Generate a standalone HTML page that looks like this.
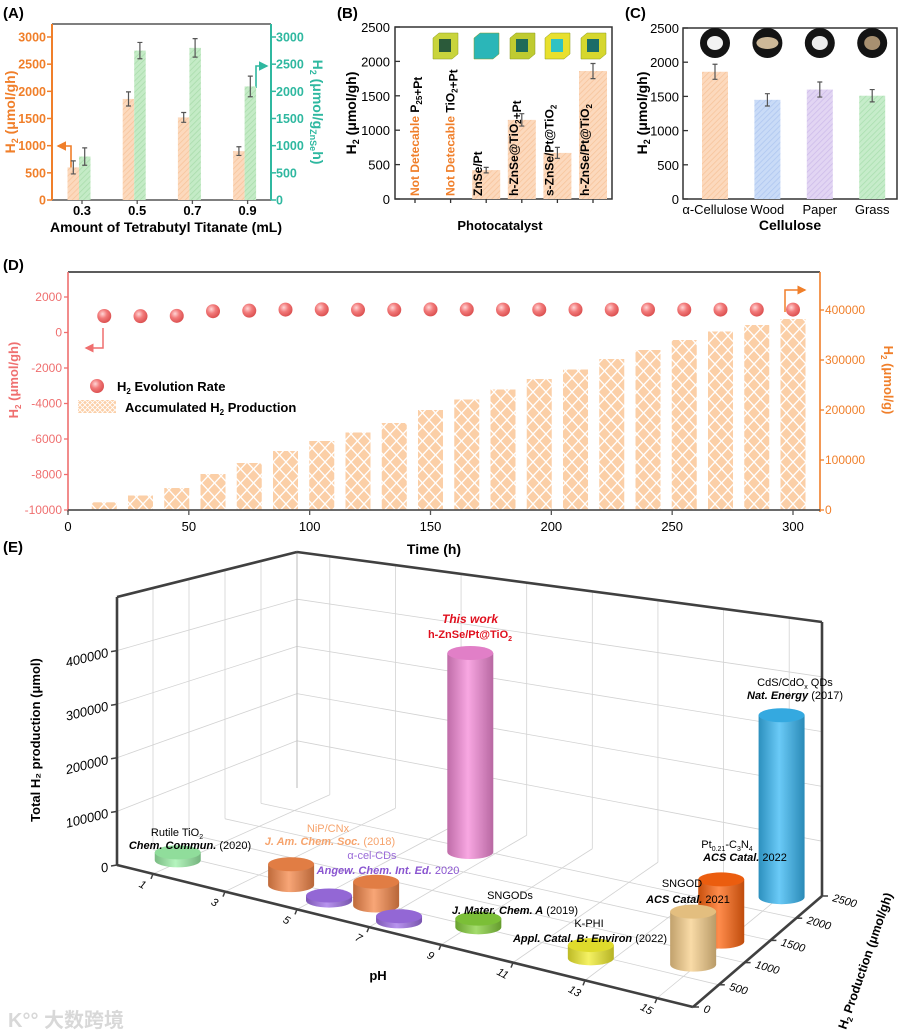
<!DOCTYPE html>
<html><head><meta charset="utf-8">
<style>
html,body{margin:0;padding:0;background:#fff;}
svg{display:block;font-family:"Liberation Sans","Noto Sans CJK SC",sans-serif;}
.b{font-weight:bold;}
</style></head>
<body>
<svg id="fig" xmlns="http://www.w3.org/2000/svg" width="900" height="1033" viewBox="0 0 900 1033">
<defs>
  <pattern id="hatchO" width="4" height="4" patternUnits="userSpaceOnUse" patternTransform="rotate(45)"><rect width="4" height="4" fill="#fcd9bd"/><line x1="0" y1="0" x2="0" y2="4" stroke="#f7c39a" stroke-width="1.5"/></pattern>
  <pattern id="hatchG" width="4" height="4" patternUnits="userSpaceOnUse" patternTransform="rotate(45)"><rect width="4" height="4" fill="#c4ebc6"/><line x1="0" y1="0" x2="0" y2="4" stroke="#a8dcaa" stroke-width="1.5"/></pattern>
  <pattern id="hatchB" width="4" height="4" patternUnits="userSpaceOnUse" patternTransform="rotate(45)"><rect width="4" height="4" fill="#c9dbf7"/><line x1="0" y1="0" x2="0" y2="4" stroke="#adc6f0" stroke-width="1.5"/></pattern>
  <pattern id="hatchP" width="4" height="4" patternUnits="userSpaceOnUse" patternTransform="rotate(45)"><rect width="4" height="4" fill="#e2d5f3"/><line x1="0" y1="0" x2="0" y2="4" stroke="#cdbbea" stroke-width="1.5"/></pattern>
  <pattern id="hatchC" width="4" height="4" patternUnits="userSpaceOnUse" patternTransform="rotate(45)"><rect width="4" height="4" fill="#c6ecca"/><line x1="0" y1="0" x2="0" y2="4" stroke="#a9dfae" stroke-width="1.5"/></pattern>
  <pattern id="cross" width="13" height="14" patternUnits="userSpaceOnUse"><rect width="13" height="14" fill="#fbcfa7"/><path d="M0 0L13 14M13 0L0 14" stroke="#fff" stroke-width="1.3"/></pattern>
  <pattern id="crossS" width="5" height="5" patternUnits="userSpaceOnUse"><rect width="5" height="5" fill="#fbcfa7"/><path d="M0 0L5 5M5 0L0 5" stroke="#fff" stroke-width="0.8"/></pattern>
  <radialGradient id="dotG" cx="0.38" cy="0.35" r="0.7"><stop offset="0" stop-color="#ffd6d6"/><stop offset="0.45" stop-color="#f27a7a"/><stop offset="1" stop-color="#d94c4c"/></radialGradient>
  <marker id="arrO" markerWidth="6" markerHeight="6" refX="5" refY="3" orient="auto"><path d="M0,0L6,3L0,6z" fill="#f07f2a"/></marker>
  <marker id="arrT" markerWidth="6" markerHeight="6" refX="5" refY="3" orient="auto"><path d="M0,0L6,3L0,6z" fill="#2fb8a0"/></marker>
  <marker id="arrP" markerWidth="6" markerHeight="6" refX="5" refY="3" orient="auto"><path d="M0,0L6,3L0,6z" fill="#ef6f6f"/></marker>
</defs>

<text x="3" y="18" font-size="15" class="b">(A)</text>
<text x="337" y="18" font-size="15" class="b">(B)</text>
<text x="625" y="18" font-size="15" class="b">(C)</text>
<text x="3" y="270" font-size="15" class="b">(D)</text>
<text x="3" y="552" font-size="15" class="b">(E)</text>

<g id="pa">
  <line x1="52" y1="24" x2="271" y2="24" stroke="#555" stroke-width="1.5"/>
  <line x1="52" y1="200" x2="271" y2="200" stroke="#555" stroke-width="1.5"/>
  <line x1="52" y1="24" x2="52" y2="200" stroke="#f07f2a" stroke-width="2"/>
  <line x1="271" y1="24" x2="271" y2="200" stroke="#2fb8a0" stroke-width="2"/>
  <text transform="translate(15,112) rotate(-90)" text-anchor="middle" font-size="14" class="b" fill="#f07f2a">H<tspan font-size="9" dy="3">2</tspan><tspan dy="-3"> (μmol/gh)</tspan></text>
  <text transform="translate(313,112) rotate(90)" text-anchor="middle" font-size="14" class="b" fill="#2fb8a0">H<tspan font-size="9" dy="3">2</tspan><tspan dy="-3"> (μmol/g</tspan><tspan font-size="9" dy="3">ZnSe</tspan><tspan dy="-3">h)</tspan></text>
  <text x="166" y="232" text-anchor="middle" font-size="14" class="b">Amount of Tetrabutyl Titanate (mL)</text>
  <path d="M71 170 L71 146 L58 146" fill="none" stroke="#f07f2a" stroke-width="1.6" marker-end="url(#arrO)"/>
  <path d="M256 88 L256 66 L267 66" fill="none" stroke="#2fb8a0" stroke-width="1.6" marker-end="url(#arrT)"/>
</g>

<g id="pb">
  <rect x="395" y="27" width="217" height="172" fill="none" stroke="#333" stroke-width="1.5"/>
  <text transform="translate(356,113) rotate(-90)" text-anchor="middle" font-size="14" class="b">H<tspan font-size="9" dy="3">2</tspan><tspan dy="-3"> (μmol/gh)</tspan></text>
  <text x="500" y="230" text-anchor="middle" font-size="13" class="b">Photocatalyst</text>
</g>

<g id="pc">
  <rect x="683" y="28" width="214" height="171" fill="none" stroke="#333" stroke-width="1.5"/>
  <text transform="translate(647,113) rotate(-90)" text-anchor="middle" font-size="14" class="b">H<tspan font-size="9" dy="3">2</tspan><tspan dy="-3"> (μmol/gh)</tspan></text>
  <text x="790" y="230" text-anchor="middle" font-size="14" class="b">Cellulose</text>
</g>

<g id="pd">
  <line x1="68" y1="272" x2="820" y2="272" stroke="#444" stroke-width="1.8"/>
  <text transform="translate(18,380) rotate(-90)" text-anchor="middle" font-size="13" class="b" fill="#ef6f6f">H<tspan font-size="8" dy="3">2</tspan><tspan dy="-3"> (μmol/gh)</tspan></text>
  <text transform="translate(884,380) rotate(90)" text-anchor="middle" font-size="13" class="b" fill="#f07f2a">H<tspan font-size="8" dy="3">2</tspan><tspan dy="-3"> (μmol/g)</tspan></text>
  <text x="434" y="554" text-anchor="middle" font-size="14" class="b">Time (h)</text>
  <path d="M103 328 L103 348 L86 348" fill="none" stroke="#ef6f6f" stroke-width="1.5" marker-end="url(#arrP)"/>
  <path d="M785 312 L785 290 L805 290" fill="none" stroke="#f07f2a" stroke-width="1.5" marker-end="url(#arrO)"/>
  <g>
    <circle cx="97" cy="386" r="7" fill="url(#dotG)"/>
    <text x="117" y="391" font-size="13" class="b">H<tspan font-size="8" dy="3">2</tspan><tspan dy="-3"> Evolution Rate</tspan></text>
    <rect x="78" y="400" width="38" height="13" fill="url(#crossS)"/>
    <text x="125" y="412" font-size="13" class="b">Accumulated H<tspan font-size="8" dy="3">2</tspan><tspan dy="-3"> Production</tspan></text>
  </g>
</g>

<g id="pe">
  <text transform="translate(40,740) rotate(-90)" text-anchor="middle" font-size="13" class="b">Total H₂ production (μmol)</text>
  <text x="378" y="980" text-anchor="middle" font-size="13" class="b">pH</text>
  <text transform="translate(846,1030) rotate(-71)" font-size="12.5" class="b">H<tspan font-size="8" dy="3">2</tspan><tspan dy="-3"> Production (μmol/gh)</tspan></text>
  <g id="eGrid"></g>
  <g id="eFrame"></g>
  <g id="eBars"></g>
  <g font-size="11">
    <text x="177" y="836" text-anchor="middle">Rutile TiO<tspan font-size="7" dy="3">2</tspan></text>
    <text x="190" y="849" text-anchor="middle"><tspan font-weight="bold" font-style="italic">Chem. Commun.</tspan> (2020)</text>
    <text x="328" y="832" text-anchor="middle" fill="#f6a36c">NiP/CNx</text>
    <text x="330" y="845" text-anchor="middle" fill="#f6a36c"><tspan font-weight="bold" font-style="italic">J. Am. Chem. Soc.</tspan> (2018)</text>
    <text x="372" y="859" text-anchor="middle" fill="#9a6ad8">α-cel-CDs</text>
    <text x="388" y="874" text-anchor="middle" fill="#8a55d0"><tspan font-weight="bold" font-style="italic">Angew. Chem. Int. Ed.</tspan> 2020</text>
    <text x="470" y="623" text-anchor="middle" font-size="12" fill="#e0101e" font-weight="bold" font-style="italic">This work</text>
    <text x="470" y="638" text-anchor="middle" font-size="11" fill="#e0101e" font-weight="bold">h-ZnSe/Pt@TiO<tspan font-size="7" dy="3">2</tspan></text>
    <text x="510" y="899" text-anchor="middle">SNGODs</text>
    <text x="515" y="914" text-anchor="middle"><tspan font-weight="bold" font-style="italic">J. Mater. Chem. A</tspan> (2019)</text>
    <text x="589" y="927" text-anchor="middle">K-PHI</text>
    <text x="590" y="942" text-anchor="middle"><tspan font-weight="bold" font-style="italic">Appl. Catal. B: Environ</tspan>  (2022)</text>
    <text x="682" y="887" text-anchor="middle">SNGOD</text>
    <text x="688" y="903" text-anchor="middle"><tspan font-weight="bold" font-style="italic">ACS Catal.</tspan> 2021</text>
    <text x="727" y="848" text-anchor="middle">Pt<tspan font-size="7" dy="3">0.21</tspan><tspan dy="-3">-C</tspan><tspan font-size="7" dy="3">3</tspan><tspan dy="-3">N</tspan><tspan font-size="7" dy="3">4</tspan></text>
    <text x="745" y="861" text-anchor="middle"><tspan font-weight="bold" font-style="italic">ACS Catal.</tspan> 2022</text>
    <text x="795" y="686" text-anchor="middle">CdS/CdO<tspan font-size="7" dy="3">x</tspan><tspan dy="-3"> QDs</tspan></text>
    <text x="795" y="699" text-anchor="middle"><tspan font-weight="bold" font-style="italic">Nat. Energy</tspan>  (2017)</text>
  </g>
  <text x="8" y="1027" font-size="20" fill="#d8d8d8" class="b">K°° 大数跨境</text>
</g>
</svg>

<script>
const NS='http://www.w3.org/2000/svg';
const svg=document.getElementById('fig');
function mk(tag,attrs,parent){const e=document.createElementNS(NS,tag);for(const k in attrs)e.setAttribute(k,attrs[k]);(parent||svg).appendChild(e);return e;}
function errBar(g,x,y1,y2,w){return mk('path',{d:'M'+(x-w)+' '+y1+'H'+(x+w)+'M'+x+' '+y1+'V'+y2+'M'+(x-w)+' '+y2+'H'+(x+w),stroke:'#555','stroke-width':1.2,fill:'none'},g);}

/* ---------- Panel A data ---------- */
const aCats=['0.3','0.5','0.7','0.9'];
const aOrange=[600,1860,1520,900];
const aOrangeErr=[120,130,90,80];
const aGreen=[800,2750,2800,2090];
const aGreenErr=[160,150,170,190];
const aTicks=[0,500,1000,1500,2000,2500,3000];

/* ---------- Panel B data ---------- */
const bCats=['P25+Pt','TiO2+Pt','ZnSe/Pt','h-ZnSe@TiO2+Pt','s-ZnSe/Pt@TiO2','h-ZnSe/Pt@TiO2'];
const bVals=[0,0,420,1150,670,1860];
const bErr=[0,0,40,90,80,110];
const bTicks=[0,500,1000,1500,2000,2500];

/* ---------- Panel C data ---------- */
const cCats=['α-Cellulose','Wood','Paper','Grass'];
const cVals=[1860,1450,1600,1510];
const cErr=[110,90,110,90];
const cTicks=[0,500,1000,1500,2000,2500];

/* ---------- Panel D data ---------- */
const dTimes=[15,30,45,60,75,90,105,120,135,150,165,180,195,210,225,240,255,270,285,300];
const dAccum=[15400,29000,44000,72000,94000,118000,138000,155000,174000,200000,221000,241000,262000,281000,302000,320000,340000,357000,370000,382000];
const dRate=[930,920,940,1200,1230,1290,1300,1280,1280,1300,1300,1290,1290,1290,1290,1290,1290,1290,1290,1290];
const dLeftTicks=[-10000,-8000,-6000,-4000,-2000,0,2000];
const dRightTicks=[0,100000,200000,300000,400000];
const dXTicks=[0,50,100,150,200,250,300];

/* ---------- Panel E data ---------- */
const eNames=['rutile-tio2','nip-cnx','cel-cds-1','cel-cds-2','nip-cnx-2','this-work','sngods','k-phi','sngod','pt-c3n4','cds-cdox'];
const ePH=[0.9,4.0,5.3,7.4,6.4,6.4,9.2,12.5,14.9,14.9,15.05];
const eRate=[400,450,325,250,450,1925,500,425,750,1280,2325];
const eProd=[15000,38000,9000,9000,42000,383000,15000,22000,87500,106000,331000];
const eColors=['#9cf0a8','#f5884a','#a070e8','#a070e8','#f5884a','#f58ad8','#86d03c','#f2ee30','#f7cf8a','#ff6510','#38b8f4'];
const ePHTicks=[1,3,5,7,9,11,13,15];
const eRateTicks=[0,500,1000,1500,2000,2500];
const eZTicks=[0,100000,200000,300000,400000];

/* ===== Panel A ===== */
(function(){
  const g=document.getElementById('pa');
  const xA=i=>82+i*55.2, yA=v=>200-v*163/3000;
  aTicks.forEach(t=>{
    const tl=mk('line',{x1:47,y1:yA(t),x2:52,y2:yA(t),stroke:'#f07f2a','stroke-width':1.5},g);
    
    
    const lt=mk('text',{x:46,y:yA(t)+4.5,'text-anchor':'end','font-size':12.5,'font-weight':'bold',fill:'#f07f2a'},g);lt.textContent=t;
    
    
    const tr=mk('line',{x1:271,y1:yA(t),x2:276,y2:yA(t),stroke:'#2fb8a0','stroke-width':1.5},g);
    
    
    const rt=mk('text',{x:276,y:yA(t)+4.5,'font-size':12.5,'font-weight':'bold',fill:'#2fb8a0'},g);rt.textContent=t;
    
    
  });
  aCats.forEach((c,i)=>{
    const cx=xA(i)-3;
    const bo=mk('rect',{x:cx-11.5,y:yA(aOrange[i]),width:11.5,height:200-yA(aOrange[i]),fill:'url(#hatchO)'},g);
    
    
    const bg=mk('rect',{x:cx,y:yA(aGreen[i]),width:11.5,height:200-yA(aGreen[i]),fill:'url(#hatchG)'},g);
    
    
    const e1=errBar(g,cx-5.7,yA(aOrange[i]+aOrangeErr[i]),yA(aOrange[i]-aOrangeErr[i]),2.5);
    
    
    const e2=errBar(g,cx+5.7,yA(aGreen[i]+aGreenErr[i]),yA(aGreen[i]-aGreenErr[i]),2.5);
    
    
    const tk=mk('line',{x1:xA(i),y1:200,x2:xA(i),y2:204,stroke:'#555','stroke-width':1.3},g);
    
    
    const lb=mk('text',{x:xA(i),y:215,'text-anchor':'middle','font-size':13,'font-weight':'bold'},g);lb.textContent=c;
    
    
  });
})();

/* ===== Panel B ===== */
(function(){
  const g=document.getElementById('pb');
  const xB=i=>415+i*35.6, yB=v=>199-v*172/2500;
  bTicks.forEach(t=>{
    const tl=mk('line',{x1:395,y1:yB(t),x2:400,y2:yB(t),stroke:'#333','stroke-width':1.3},g);
    
    
    const lt=mk('text',{x:390,y:yB(t)+5,'text-anchor':'end','font-size':13},g);lt.textContent=t;
    
    
  });
  function addSpan(parent,str,attrs){const s=mk('tspan',attrs||{},parent);s.textContent=str;return s;}
  bCats.forEach((c,i)=>{
    const x=xB(i);
    if(bVals[i]>0){
      const r=mk('rect',{x:x-14,y:yB(bVals[i]),width:28,height:199-yB(bVals[i]),fill:'url(#hatchO)'},g);
      
      
      const e=errBar(g,x,yB(bVals[i]+bErr[i]),yB(bVals[i]-bErr[i]),2.5);
      
      
    }
    const tk=mk('line',{x1:x,y1:199,x2:x,y2:203,stroke:'#333','stroke-width':1.3},g);
    
    
    const bx=bVals[i]===0?x+4:x-4;
    const t=mk('text',{transform:'translate('+bx+',196) rotate(-90)','font-size':12,'font-weight':'bold'},g);
    
    
    if(bVals[i]===0) addSpan(t,'Not Detecable ',{fill:'#f07f2a'});
    const parts=c.split(/(P25|TiO2)/);
    parts.forEach(p=>{
      if(p==='P25'){addSpan(t,'P');addSpan(t,'25',{'font-size':8,dy:3});addSpan(t,'',{dy:-3});}
      else if(p==='TiO2'){addSpan(t,'TiO');addSpan(t,'2',{'font-size':8,dy:3});addSpan(t,'',{dy:-3});}
      else if(p) addSpan(t,p);
    });
  });
  const cubes=[[445,'#c9d43c','#2b5a3a'],[486,'#2bb6b8',null],[522,'#bfcb30','#1f6a58'],[557,'#e8e02e','#2fc2c4'],[593,'#d6d72e','#1b6c68']];
  cubes.forEach(cb=>{
    const o=mk('path',{d:'M'+(cb[0]-12)+' 38 L'+(cb[0]-6)+' 33 L'+(cb[0]+13)+' 33 L'+(cb[0]+13)+' 54 L'+(cb[0]+7)+' 59 L'+(cb[0]-12)+' 59Z',fill:cb[1],stroke:'#8a9a20','stroke-width':0.5},g);
    
    
    if(cb[2]){const n=mk('rect',{x:cb[0]-6,y:39,width:12,height:13,fill:cb[2]},g);
      
      }
  });
})();

/* ===== Panel C ===== */
(function(){
  const g=document.getElementById('pc');
  const xC=i=>715+i*52.4, yC=v=>199-v*171/2500;
  const fills=['url(#hatchO)','url(#hatchB)','url(#hatchP)','url(#hatchC)'];
  cTicks.forEach(t=>{
    const tl=mk('line',{x1:683,y1:yC(t),x2:688,y2:yC(t),stroke:'#333','stroke-width':1.3},g);
    
    
    const lt=mk('text',{x:679,y:yC(t)+5,'text-anchor':'end','font-size':13},g);lt.textContent=t;
    
    
  });
  cCats.forEach((c,i)=>{
    const x=xC(i);
    const r=mk('rect',{x:x-13,y:yC(cVals[i]),width:26,height:199-yC(cVals[i]),fill:fills[i]},g);
    
    
    const e=errBar(g,x,yC(cVals[i]+cErr[i]),yC(cVals[i]-cErr[i]),2.5);
    
    
    const lb=mk('text',{x:x,y:214,'text-anchor':'middle','font-size':13},g);lb.textContent=c;
    
    
    const ph=mk('circle',{cx:x,cy:43,r:15,fill:'#141414'},g);
    
    
    const bl=mk('ellipse',{cx:x,cy:43,rx:i==1?11:8,ry:i==1?6:7,fill:['#f2f2f2','#cdb898','#ececec','#a89070'][i]},g);
    
    
  });
})();

/* ===== Panel D ===== */
(function(){
  const g=document.getElementById('pd');
  const xD=t=>68+t*725/300, yL=v=>510-(v+10000)*213/12000, yR=v=>510-v*200/400000;
  const narrow='"Liberation Sans Narrow","Liberation Sans",sans-serif';
  dTimes.forEach((t,i)=>{
    const r=mk('rect',{x:xD(t)-12.5,y:yR(dAccum[i]),width:25,height:510-yR(dAccum[i]),fill:'url(#cross)'},g);
    
    
  });
  dTimes.forEach((t,i)=>{
    const c=mk('circle',{cx:xD(t),cy:yL(dRate[i]),r:7,fill:'url(#dotG)'},g);
    
    
  });
  const la=mk('line',{x1:68,y1:272,x2:68,y2:512,stroke:'#ef6f6f','stroke-width':1.6},g);
  
  
  const ra=mk('line',{x1:820,y1:272,x2:820,y2:512,stroke:'#f07f2a','stroke-width':1.6},g);
  
  
  const xa=mk('line',{x1:68,y1:510,x2:820,y2:510,stroke:'#555','stroke-width':1.8},g);
  
  
  dLeftTicks.forEach(t=>{
    const tl=mk('line',{x1:64,y1:yL(t),x2:68,y2:yL(t),stroke:'#ef6f6f','stroke-width':1.3},g);
    
    
    const lt=mk('text',{x:62,y:yL(t)+4,'text-anchor':'end','font-size':12,fill:'#ef6f6f','font-family':narrow},g);lt.textContent=t;
    
    
  });
  dRightTicks.forEach(t=>{
    const tl=mk('line',{x1:820,y1:yR(t),x2:824,y2:yR(t),stroke:'#f07f2a','stroke-width':1.3},g);
    
    
    const lt=mk('text',{x:825,y:yR(t)+4,'font-size':12,fill:'#f07f2a','font-family':narrow},g);lt.textContent=t;
    
    
  });
  dXTicks.forEach(t=>{
    const tl=mk('line',{x1:xD(t),y1:510,x2:xD(t),y2:515,stroke:'#555','stroke-width':1.3},g);
    
    
    const lt=mk('text',{x:xD(t),y:531,'text-anchor':'middle','font-size':13,'font-family':narrow},g);lt.textContent=t;
    
    
  });
})();

/* ===== Panel E (3D) ===== */
(function(){
  const P00=[117,865],P10=[693,1007],P01=[297,788],P11=[822,896];
  const H00=268,H10=320,H01=236,H11=274, ZMAX=500000, PHMAX=16, RMAX=2500;
  function proj(ph,rate,z){
    const u=ph/PHMAX,v=rate/RMAX;
    const w00=(1-u)*(1-v),w10=u*(1-v),w01=(1-u)*v,w11=u*v;
    const x=w00*P00[0]+w10*P10[0]+w01*P01[0]+w11*P11[0];
    const y=w00*P00[1]+w10*P10[1]+w01*P01[1]+w11*P11[1];
    const h=w00*H00+w10*H10+w01*H01+w11*H11;
    return [x,y-h*z/ZMAX];
  }
  const grid=document.getElementById('eGrid'), frame=document.getElementById('eFrame'), bars=document.getElementById('eBars');
  function ln(p,q,col,w,parent){return mk('line',{x1:p[0],y1:p[1],x2:q[0],y2:q[1],stroke:col,'stroke-width':w},parent);}
  const gc='#d2d2d2';
  for(let z=100000;z<ZMAX;z+=100000){
    const l1=ln(proj(0,0,z),proj(0,RMAX,z),gc,0.8,grid);
    
    
    const l2=ln(proj(0,RMAX,z),proj(PHMAX,RMAX,z),gc,0.8,grid);
    
    
  }
  for(let r=500;r<RMAX;r+=500){
    const l1=ln(proj(0,r,0),proj(0,r,ZMAX),gc,0.8,grid);
    
    
    const l2=ln(proj(0,r,0),proj(PHMAX,r,0),gc,0.8,grid);
    
    
  }
  ePHTicks.forEach(p=>{
    const l1=ln(proj(p,RMAX,0),proj(p,RMAX,ZMAX),gc,0.8,grid);
    
    
    const l2=ln(proj(p,0,0),proj(p,RMAX,0),gc,0.8,grid);
    
    
  });
  const corner=ln(proj(0,RMAX,0),proj(0,RMAX,ZMAX),'#bbb',1,grid);
  
  
  const fc='#404040';
  const fl=[[proj(0,0,0),proj(0,0,ZMAX),'e-z-axis'],[proj(0,0,ZMAX),proj(0,RMAX,ZMAX),'e-left-wall-top'],[proj(0,RMAX,ZMAX),proj(PHMAX,RMAX,ZMAX),'e-back-wall-top'],[proj(PHMAX,RMAX,ZMAX),proj(PHMAX,RMAX,0),'e-right-edge'],[proj(0,0,0),proj(PHMAX,0,0),'e-ph-axis'],[proj(PHMAX,0,0),proj(PHMAX,RMAX,0),'e-rate-axis']];
  fl.forEach(f=>{const l=ln(f[0],f[1],fc,2.6,frame);
    
    });
  eZTicks.forEach(z=>{
    const p=proj(0,0,z);
    const t=ln([p[0]-6,p[1]+1],p,fc,1.5,frame);
    
    
    const tx=mk('text',{transform:'translate('+(p[0]-8)+','+(p[1]+6)+') rotate(-14)','text-anchor':'end','font-size':13,'font-style':'italic'},frame);tx.textContent=z;
    
    
  });
  ePHTicks.forEach(ph=>{
    const p=proj(ph,0,0);
    const t=ln(p,[p[0]-2,p[1]+5],fc,1.5,frame);
    
    
    const tx=mk('text',{transform:'translate('+(p[0]-12)+','+(p[1]+14)+') rotate(28)','text-anchor':'middle','font-size':11,'font-style':'italic'},frame);tx.textContent=ph;
    
    
  });
  eRateTicks.forEach(r=>{
    const p=proj(PHMAX,r,0);
    const t=ln(p,[p[0]+6,p[1]],fc,1.5,frame);
    
    
    const tx=mk('text',{transform:'translate('+(p[0]+10)+','+(p[1]+5)+') rotate(16)','font-size':11,'font-style':'italic'},frame);tx.textContent=r;
    
    
  });
  const defs=svg.querySelector('defs');
  function shade(hex,f){const n=parseInt(hex.slice(1),16);let r=n>>16,g=(n>>8)&255,b=n&255;
    if(f<0){r*=1+f;g*=1+f;b*=1+f;}else{r+=(255-r)*f;g+=(255-g)*f;b+=(255-b)*f;}
    return 'rgb('+[r,g,b].map(v=>Math.round(v)).join(',')+')';}
  const order=eNames.map((n,i)=>i).sort((a,b)=>proj(ePH[a],eRate[a],0)[1]-proj(ePH[b],eRate[b],0)[1]);
  order.forEach(i=>{
    const gr=mk('linearGradient',{id:'cg'+i,x1:0,y1:0,x2:1,y2:0},defs);
    mk('stop',{offset:0,'stop-color':shade(eColors[i],-0.22)},gr);
    mk('stop',{offset:0.45,'stop-color':shade(eColors[i],0.25)},gr);
    mk('stop',{offset:1,'stop-color':shade(eColors[i],-0.25)},gr);
    const B=proj(ePH[i],eRate[i],0), T=proj(ePH[i],eRate[i],eProd[i]);
    const rx=23, ry=7;
    const g=mk('g',{},bars);
    
    
    const body=mk('path',{d:'M'+(T[0]-rx)+' '+T[1]+' L'+(B[0]-rx)+' '+B[1]+' A'+rx+' '+ry+' 0 0 0 '+(B[0]+rx)+' '+B[1]+' L'+(T[0]+rx)+' '+T[1]+' Z',fill:'url(#cg'+i+')'},g);
    
    
    const top=mk('ellipse',{cx:T[0],cy:T[1],rx:rx,ry:ry,fill:shade(eColors[i],-0.08)},g);
    
    
  });
})();
</script>
</body></html>
